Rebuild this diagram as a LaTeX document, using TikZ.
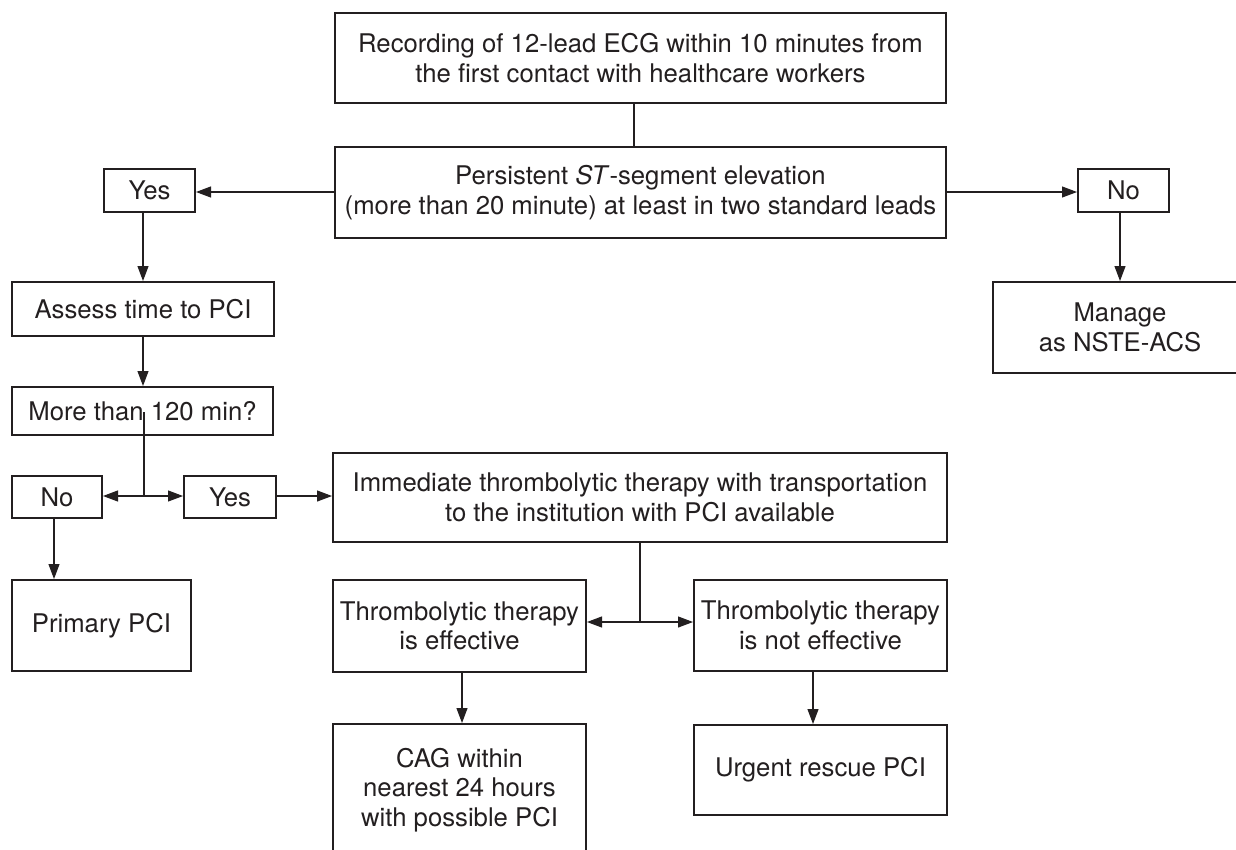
\documentclass[tikz,border=0pt]{standalone}
\usepackage{fontspec}
\setmainfont{TeX Gyre Heros}
\usetikzlibrary{arrows.meta,calc}
\definecolor{ink}{HTML}{231F20}
\begin{document}
\begin{tikzpicture}[x=1pt,y=-1pt,
  box/.style={draw=ink, line width=2pt, text=ink, align=center, inner sep=0pt,
    font=\fontsize{25.7}{29.5}\selectfont},
  conn/.style={draw=ink, line width=1.1pt},
  arr/.style={conn, -{Triangle[length=15pt,width=11pt]}}]
\useasboundingbox (0,0) rectangle (1236,849);
\fill[white] (0,0) rectangle (1236,849);

\node[box, minimum width=611pt, minimum height=90pt] (b1) at (640.5,58)
  {Recording of 12-lead ECG within 10 minutes from\\the first contact with healthcare workers};
\node[box, minimum width=611pt, minimum height=91pt] (b2) at (640.5,192.5)
  {Persistent \textit{ST}-segment elevation\\(more than 20 minute) at least in two standard leads};
\node[box, minimum width=91pt, minimum height=43pt] (yesT) at (149.5,190.5) {Yes};
\node[box, minimum width=91pt, minimum height=43pt] (noT) at (1123.5,190.5) {No};
\node[box, minimum width=262pt, minimum height=54pt] (assess) at (143,309) {Assess time to PCI};
\node[box, minimum width=261pt, minimum height=48pt] (more) at (142.5,411) {More than 120 min?};
\node[box, minimum width=90pt, minimum height=42pt] (no2) at (57,497) {No};
\node[box, minimum width=92pt, minimum height=42pt] (yes2) at (230,497) {Yes};
\node[box, minimum width=614pt, minimum height=89pt] (imm) at (640,497.5)
  {Immediate thrombolytic therapy with transportation\\to the institution with PCI available};
\node[box, minimum width=179pt, minimum height=91pt] (prim) at (101.5,625.5) {Primary PCI};
\node[box, minimum width=253pt, minimum height=92pt] (eff) at (459.5,626)
  {Thrombolytic therapy\\is effective};
\node[box, minimum width=253pt, minimum height=91pt] (noteff) at (820.5,625.5)
  {Thrombolytic therapy\\is not effective};
\node[box, minimum width=253pt, minimum height=132pt] (cag) at (459.5,790)
  {CAG within\\nearest 24 hours\\with possible PCI};
\node[box, minimum width=253pt, minimum height=90pt] (urgent) at (820.5,770) {Urgent rescue PCI};
\node[box, minimum width=254pt, minimum height=91pt] (nste) at (1120,327.5)
  {Manage\\as NSTE-ACS};

% junction / column coordinates
\coordinate (c1) at (634,0);
\coordinate (r1) at (0,192);
\coordinate (cy) at (143,0);
\coordinate (cn) at (54,0);
\coordinate (ce) at (462,0);
\coordinate (cne) at (813,0);
\coordinate (j1) at (144,496);
\coordinate (j1s) at (144,412);
\coordinate (j2) at (640,622);

\draw[conn] (b1.south -| c1) -- (b2.north -| c1);
\draw[arr] (b2.west |- r1) -- (yesT.east |- r1);
\draw[arr] (b2.east |- r1) -- (noT.west |- r1);
\draw[arr] (yesT.south -| cy) -- (assess.north -| cy);
\draw[arr] (noT.south -| nste.north) -- (nste.north);
\draw[arr] (assess.south -| cy) -- (more.north -| cy);
\draw[conn] (j1s) -- (j1);
\draw[arr] (j1) -- (no2.east |- j1);
\draw[arr] (j1) -- (yes2.west |- j1);
\draw[arr] (yes2.east |- j1) -- (imm.west |- j1);
\draw[arr] (no2.south -| cn) -- (prim.north -| cn);
\draw[conn] (imm.south -| j2) -- (j2);
\draw[arr] (j2) -- (eff.east |- j2);
\draw[arr] (j2) -- (noteff.west |- j2);
\draw[arr] (eff.south -| ce) -- (cag.north -| ce);
\draw[arr] (noteff.south -| cne) -- (urgent.north -| cne);
\end{tikzpicture}
\end{document}
